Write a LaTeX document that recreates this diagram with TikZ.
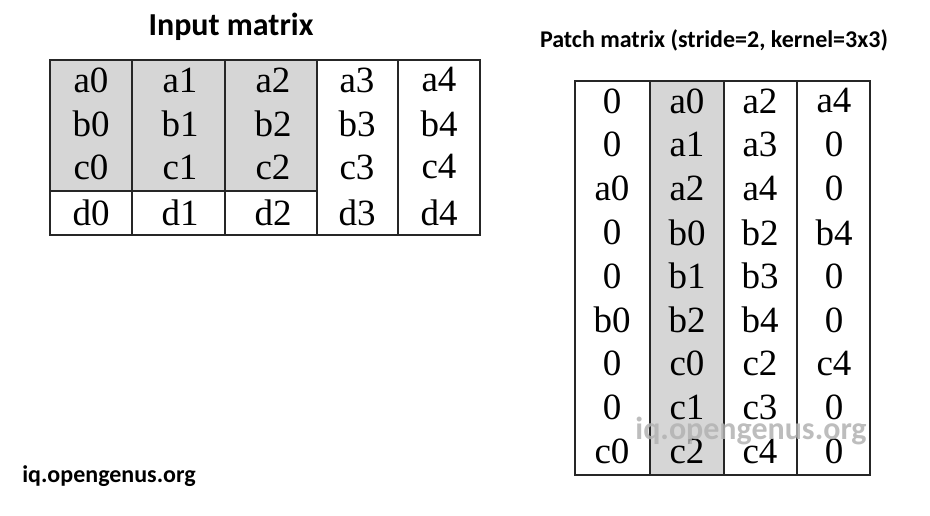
\documentclass[tikz,border=0pt]{standalone}
\usepackage{fontspec}
\setmainfont{Liberation Serif}
\newfontfamily\carlitofont{Carlito}
\begin{document}
\begin{tikzpicture}[x=1pt,y=-1pt,
  cell/.style={font=\fontsize{37}{37}\selectfont, inner sep=0pt, anchor=center},
  grid/.style={line width=1.2pt, draw=black!85},
  shade/.style={fill=black!16}]
\useasboundingbox (0,0) rectangle (930,516);
% input matrix
\fill[shade] (50,60) rectangle (317,191);
\draw[grid] (50,60) rectangle (480,235);
\draw[grid] (50,191) -- (317,191);
\foreach \x in {132,225,317,398} \draw[grid] (\x,60) -- (\x,235);
\node[font=\carlitofont\bfseries\fontsize{32}{32}\selectfont] (t1) at (231,27) {Input matrix};
\foreach \r/\y in {a/80,b/124,c/167,d/213}
  \foreach \c/\x in {0/91,1/180,2/273,3/357,4/439}
    \node[cell] (i\r\c) at (\x,\y) {\r\c};
% patch matrix
\fill[shade] (650,81) rectangle (724,475);
\draw[grid] (575,81) rectangle (870,475);
\foreach \x in {650,724,797} \draw[grid] (\x,81) -- (\x,475);
\node[font=\carlitofont\bfseries\fontsize{24}{24}\selectfont] (t2) at (714,40) {Patch matrix (stride=2, kernel=3x3)};
\foreach \a/\b/\cc/\d [count=\i] in {0/a0/a2/a4, 0/a1/a3/0, a0/a2/a4/0, 0/b0/b2/b4, 0/b1/b3/0, b0/b2/b4/0, 0/c0/c2/c4, 0/c1/c3/0, c0/c2/c4/0}{
  \pgfmathsetmacro\yy{101+43.8*(\i-1)}
  \node[cell] (p\i a) at (612,\yy) {\a};
  \node[cell] (p\i b) at (687,\yy) {\b};
  \node[cell] (p\i c) at (760,\yy) {\cc};
  \node[cell] (p\i d) at (834,\yy) {\d};
}
\node[font=\carlitofont\bfseries\fontsize{32}{32}\selectfont, text=black!30, opacity=0.85] (w2) at (751,431) {iq.opengenus.org};
\node[font=\carlitofont\bfseries\fontsize{24}{24}\selectfont] (w1) at (109,476) {iq.opengenus.org};
\end{tikzpicture}
\end{document}
